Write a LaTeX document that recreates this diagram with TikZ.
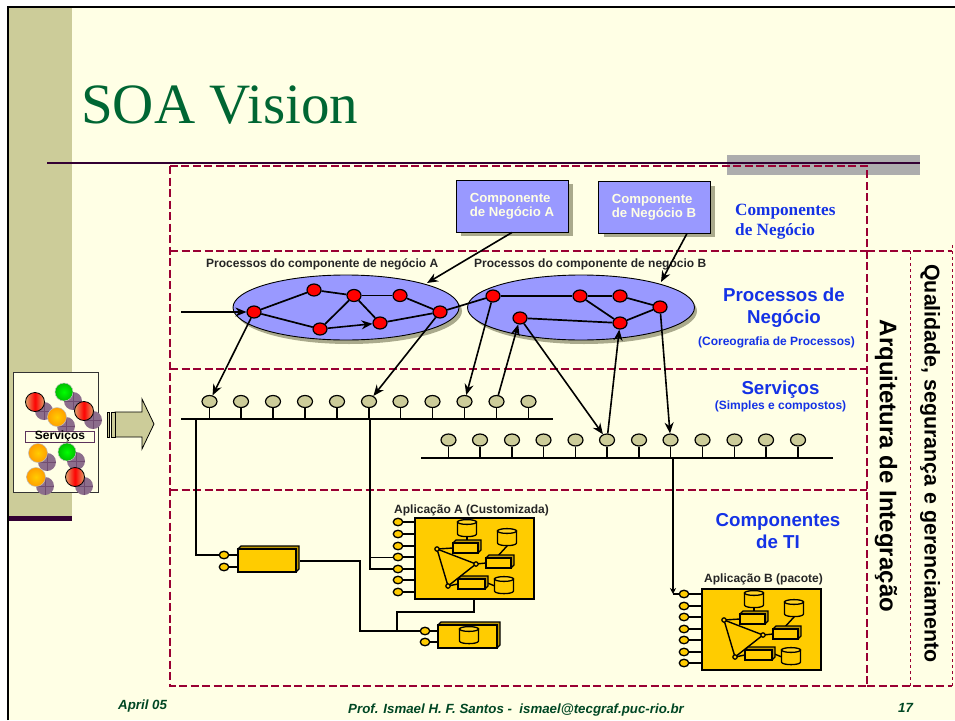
\documentclass[tikz,border=0pt]{standalone}
\usepackage{fontspec}
\setmainfont{Liberation Sans}
\newfontfamily\serifsoa{Liberation Serif}
\usetikzlibrary{arrows.meta,shapes.geometric}
\pgfdeclarelayer{bg}
\pgfdeclarelayer{links}
\pgfsetlayers{bg,links,main}
\definecolor{paper}{RGB}{255,255,229}
\definecolor{tan}{RGB}{204,204,153}
\definecolor{plum}{RGB}{51,0,51}
\definecolor{crimson}{RGB}{153,0,51}
\definecolor{lilac}{RGB}{153,153,255}
\definecolor{amber}{RGB}{255,204,0}
\definecolor{bluetxt}{RGB}{20,50,230}
\definecolor{titlegreen}{RGB}{0,102,51}
\definecolor{shadowc}{RGB}{170,170,140}
\definecolor{mauve}{RGB}{140,110,140}
\definecolor{salmon}{RGB}{225,165,110}
\tikzset{
 x=1pt,y=-1pt,
 zone/.style={crimson,line width=1.3pt,dash pattern=on 8pt off 3.5pt},
 zonethin/.style={crimson,line width=.9pt,dash pattern=on 3pt off 3pt},
 pnode/.style={ellipse,draw=black,fill=red,line width=1.2pt,minimum width=14pt,minimum height=12pt,inner sep=0pt},
 link/.style={black,line width=1.7pt},
 arr/.style={black,line width=1.6pt,-{Stealth[length=11pt,width=9pt]}},
 srv/.style={ellipse,draw=black,fill=tan,line width=1.2pt,minimum width=15pt,minimum height=12pt,inner sep=0pt},
 port/.style={ellipse,draw=black,fill=amber,line width=1.3pt,minimum width=9.5pt,minimum height=7.5pt,inner sep=0pt},
 wire/.style={black,line width=1.4pt},
 bcomp/.style={draw=black,fill=lilac,line width=.9pt,minimum width=112pt,minimum height=52pt,inner sep=0pt,align=left,text=paper,font=\bfseries\fontsize{13.2}{14}\selectfont},
 lab/.style={inner sep=0pt,font=\bfseries\fontsize{12}{14}\selectfont,text=black!85},
 zonetxt/.style={inner sep=0pt,align=center,text=bluetxt,font=\bfseries\fontsize{18.7}{22}\selectfont},
 zonesub/.style={inner sep=0pt,text=bluetxt,font=\bfseries\fontsize{12}{14}\selectfont},
 foot/.style={inner sep=0pt,anchor=base west,text=titlegreen!70!black,font=\bfseries\itshape\fontsize{13.3}{15}\selectfont},
 appbox/.style={draw=black,fill=amber,line width=1.5pt,minimum width=119pt,minimum height=81pt,inner sep=0pt,anchor=north west},
}
\newcommand{\dbcyl}[3]{%
 \begin{scope}[shift={(#1,#2)}]
 \draw[black,line width=1.3pt,fill=amber] (-#3,-6) -- (-#3,6) .. controls (-#3,9.5) and (#3,9.5) .. (#3,6) -- (#3,-6) -- cycle;
 \draw[black,line width=1.3pt,fill=amber!85!white] (0,-6) ellipse[x radius=#3,y radius=2.4];
 \end{scope}}
\newcommand{\minibox}[4]{%
 \begin{scope}[shift={(#1,#2)}]
 \draw[black,line width=1.3pt,fill=amber!75!black] (0,0) -- (3,-3) -- (#3+3,-3) -- (#3+3,#4-3) -- (#3,#4) -- cycle;
 \draw[black,line width=1.3pt,fill=amber] (0,0) rectangle (#3,#4);
 \end{scope}}
\newcommand{\appinner}[2]{%
 \begin{scope}[shift={(#1,#2)}]
 \coordinate (c1) at (23,32);\coordinate (c2) at (62,47);\coordinate (c3) at (34,69);
 \draw[wire] (53,19) -- (53,26);
 \draw[wire] (93,29) -- (82,41);
 \draw[wire] (c1) -- (c2) -- (c3) -- cycle;
 \draw[wire] (c1) -- (39,31);
 \draw[wire] (c2) -- (72,46);
 \draw[wire] (c3) -- (44,67);
 \draw[wire] (71,65) -- (81,69);
 \dbcyl{53}{11}{9.5}
 \dbcyl{93}{20}{9.5}
 \dbcyl{90}{68}{9.5}
 \minibox{39}{26}{25}{10}
 \minibox{72}{41}{25}{10}
 \minibox{44}{62}{27}{10}
 \foreach \p in {c1,c2,c3}{\draw[black,line width=1.2pt,fill=amber] (\p) circle (2.2);}
 \end{scope}}
\newcommand{\shadowdot}[2]{%
 \fill[mauve] (#1+9,#2+9) circle (9);
 \draw[plum!70,line width=.4pt] (#1,#2+9) -- (#1+18,#2+9) (#1+9,#2) -- (#1+9,#2+18);}
\newcommand{\lightred}[2]{\shadowdot{#1}{#2}
 \shade[left color=salmon,right color=salmon,middle color=red] (#1,#2) circle (9.5);
 \draw[black,line width=.8pt] (#1,#2) circle (9.5);}
\newcommand{\lightorange}[2]{\shadowdot{#1}{#2}
 \shade[inner color=amber,outer color=orange!60!amber] (#1,#2) circle (9.5);
 \draw[black!25,line width=.5pt] (#1,#2) circle (9.5);}
\newcommand{\lightgreen}[2]{\shadowdot{#1}{#2}
 \shade[inner color=green,outer color=green!75!black] (#1,#2) circle (9);
 \draw[black!25,line width=.5pt] (#1,#2) circle (9);}
\begin{document}
\begin{tikzpicture}
\useasboundingbox (0,0) rectangle (955,720);
\begin{pgfonlayer}{bg}
\fill[paper] (0,0) rectangle (955,720);
\fill[white] (0,0) rectangle (955,6);
\fill[white] (0,0) rectangle (7,720);
\fill[tan] (9,8) rectangle (72,520);
\fill[plum] (9,516) rectangle (72,521);
\draw[black,line width=2.3pt] (8,720) -- (8,7) -- (955,7);
\fill[black!32] (727,155) rectangle (920,175);
\draw[plum,line width=1.6pt] (47,163) -- (920,163);
\draw[zone] (170,166) rectangle (867,686);
\draw[zone] (170,251) -- (867,251);
\draw[zone] (170,369) -- (867,369);
\draw[zone] (170,490) -- (867,490);
\draw[zone] (867,251) -- (952,251);
\draw[zone] (867,686) -- (952,686);
\draw[zonethin] (910,251) -- (910,686);
\draw[zonethin] (952,245) -- (952,686);
\fill[shadowc] (461,184) rectangle (573,236);
\fill[shadowc] (604,186) rectangle (715,237);
\fill[shadowc] (349,311) ellipse[x radius=113,y radius=33];
\fill[shadowc] (584,311) ellipse[x radius=113,y radius=33];
\node[ellipse,draw=black,fill=lilac,line width=.9pt,minimum width=226pt,minimum height=65pt,inner sep=0pt] (ea) at (346,307.5) {};
\node[ellipse,draw=black,fill=lilac,line width=.9pt,minimum width=227pt,minimum height=65pt,inner sep=0pt] (eb) at (581,307.5) {};
\end{pgfonlayer}
% title
\node[anchor=base west,inner sep=0pt,text=titlegreen,font=\serifsoa\fontsize{57}{60}\selectfont] (title) at (81,123) {SOA Vision};
% business components
\node[bcomp] (ca) at (512,206) {Componente\\de Negócio A};
\node[bcomp] (cb) at (654,207) {Componente\\de Negócio B};
\node[anchor=north west,inner sep=0pt,align=left,text=bluetxt,font=\serifsoa\bfseries\fontsize{17.2}{20}\selectfont] (tc) at (735,204) {Componentes\\de Negócio};
\node[lab,anchor=base west] (la) at (206,267) {Processos do componente de negócio A};
\node[lab,anchor=base west] (lb) at (474,267) {Processos do componente de negócio B};
% process nodes
\node[pnode] (a1) at (254,312) {};
\node[pnode] (a2) at (314,290) {};
\node[pnode] (a3) at (320,329) {};
\node[pnode] (a4) at (354,295.5) {};
\node[pnode] (a5) at (380,323) {};
\node[pnode] (a6) at (400,295.5) {};
\node[pnode] (a7) at (440,312) {};
\node[pnode] (b1) at (493,296) {};
\node[pnode] (b2) at (520,318) {};
\node[pnode] (b3) at (580,296) {};
\node[pnode] (b4) at (620,296) {};
\node[pnode] (b5) at (620,323) {};
\node[pnode] (b6) at (660,307) {};
\begin{pgfonlayer}{links}
\draw[link] (a1) -- (a2);\draw[link] (a2) -- (a4);\draw[link] (a4) -- (a6);\draw[link] (a6) -- (a7);
\draw[link] (a1) -- (a3);\draw[link] (a3) -- (a4);\draw[link] (a4) -- (a5);\draw[link] (a5) -- (a7);
\draw[link] (a7) -- (b1);
\draw[link] (b1) -- (b3);\draw[link] (b3) -- (b4);\draw[link] (b4) -- (b6);
\draw[link] (b3) -- (b5);\draw[link] (b6) -- (b5);\draw[link] (b2) -- (b5);
\end{pgfonlayer}
\draw[arr] (a3) -- (a5);
\coordinate (entry) at (181,312);
\draw[arr] (entry) -- (a1);
% services
\foreach \i/\x in {1/209.5,2/241,3/273,4/305,5/337,6/369,7/400.5,8/432.5,9/464.5,10/496.5,11/528.5}{
 \coordinate (st\i) at (\x,419);
 \node[srv] (s\i) at (\x,401.5) {};
 \draw[black,line width=1.2pt] (st\i) -- (s\i);
}
\foreach \i/\x in {1/448.5,2/480,3/512,4/543.5,5/575.5,6/607,7/639,8/670.5,9/702.5,10/734.5,11/766,12/798}{
 \coordinate (ut\i) at (\x,458);
 \node[srv] (u\i) at (\x,440) {};
 \draw[black,line width=1.2pt] (ut\i) -- (u\i);
}
\coordinate (bus1a) at (181,419);\coordinate (bus1b) at (553,419);
\coordinate (bus2a) at (421,458);\coordinate (bus2b) at (833,458);
\draw[black,line width=1.6pt] (bus1a) -- (bus1b);
\draw[black,line width=1.6pt] (bus2a) -- (bus2b);
% arrows
\coordinate (eatop) at (427,283);
\coordinate (ebtop) at (661,282);
\draw[arr] (ca.south) -- (eatop);
\draw[arr] (cb.south) ++(33,0) -- (ebtop);
\draw[arr] (a1) -- (s1);
\draw[arr] (a7) -- (s6);
\draw[arr] (b1) -- (s9);
\draw[arr] (s10) -- (b2);
\draw[arr] (b2) -- (u6);
\draw[arr] (u6) -- (b5);
\draw[arr] (b6) -- (u8);
% box 1
\minibox{238}{549}{58}{23}
\node[port] (p1a) at (224,555) {};
\node[port] (p1b) at (224,567) {};
\coordinate (b1w) at (238,555);\coordinate (b1x) at (238,567);\coordinate (b1o) at (300,561);
\draw[wire] (p1a) -- (b1w);\draw[wire] (p1b) -- (b1x);
% box 3
\minibox{438}{625}{59}{23}
\dbcyl{469}{635}{9.5}
\node[port] (p3a) at (425,631) {};
\node[port] (p3b) at (425,642) {};
\coordinate (b3w) at (438,631);\coordinate (b3x) at (438,642);
\draw[wire] (p3a) -- (b3w);\draw[wire] (p3b) -- (b3x);
% app A
\node[appbox] (appa) at (414,517) {};
\appinner{414}{517}
\foreach \i/\y in {1/522,2/534,3/546,4/557,5/569,6/580,7/592}{
 \node[port] (pa\i) at (398,\y) {};
 \coordinate (qa\i) at (414,\y);
 \draw[wire] (pa\i) -- (qa\i);
}
\node[lab,anchor=base west] (labA) at (394,513) {Aplicação A (Customizada)};
% app B
\node[appbox] (appb) at (701,588) {};
\appinner{701}{588}
\foreach \i/\y in {1/594,2/606,3/617,4/629,5/640,6/652,7/663}{
 \node[port] (pb\i) at (684,\y) {};
 \coordinate (qb\i) at (701,\y);
 \draw[wire] (pb\i) -- (qb\i);
}
\node[lab,anchor=base west] (labB) at (704,582) {Aplicação B (pacote)};
% wiring
\coordinate (t1) at (196,419);\coordinate (t2) at (370,419);\coordinate (t3) at (673,458);
\coordinate (t4) at (673,594);
\draw[wire] (t1) |- (p1a);
\draw[wire] (t2) |- (pa5);
\draw[black,line width=.9pt] (t2 |- pa4) -- (pa4);
\draw[wire] (b1o) -| (360,631) -- (p3a);
\draw[wire] (474,598) |- (397,612) -- (397,631);
\draw[black,line width=1.1pt,-{Stealth[length=6pt,width=6pt]}] (t3) -- (t4);
\draw[wire] (t4) -- (pb1);
% zone labels
\node[zonetxt] (tp) at (784,308) {Processos de\\Negócio};
\node[zonesub] (tps) at (776.5,342) {(Coreografia de Processos)};
\node[zonetxt] (ts) at (780.5,390) {Serviços};
\node[zonesub] (tss) at (780.5,406) {(Simples e compostos)};
\node[zonetxt] (tt) at (778,531) {Componentes\\de TI};
\node[inner sep=0pt,rotate=-90,font=\bfseries\fontsize{24}{26}\selectfont,text=black] (ti) at (886,466) {Arquitetura de Integração};
\node[inner sep=0pt,rotate=-90,font=\bfseries\fontsize{21.4}{24}\selectfont,text=black] (tq) at (930,463.5) {Qualidade, segurança e gerenciamento};
% services panel
\node[draw=black!80,fill=paper,line width=.8pt,minimum width=85pt,minimum height=120pt,inner sep=0pt,anchor=north west] (panel) at (13,372) {};
\lightred{35}{402}
\lightgreen{64}{392}
\lightorange{57}{417}
\lightred{84}{411}
\node[draw=plum!80,fill=paper,line width=.8pt,minimum width=69pt,minimum height=11pt,inner sep=0pt,font=\bfseries\fontsize{12}{11}\selectfont] (srvlab) at (60,436.5) {Serviços};
\lightorange{38}{453}
\lightgreen{67}{452}
\lightorange{36}{477}
\lightred{75}{477}
% block arrow
\draw[black,line width=.8pt,fill=tan] (115,412) -- (142,412) -- (142,399) -- (154,424) -- (142,449) -- (142,437) -- (115,437) -- cycle;
\draw[black,line width=.8pt,fill=tan] (107,412) rectangle (109.5,437);
\draw[black,line width=.8pt,fill=tan] (111,412) rectangle (115,437);
% footer
\node[foot] (f1) at (118,709) {April 05};
\node[foot] (f2) at (348,713) {Prof. Ismael H. F. Santos -\ \ ismael@tecgraf.puc-rio.br};
\node[foot] (f3) at (898,712) {17};
\end{tikzpicture}
\end{document}
